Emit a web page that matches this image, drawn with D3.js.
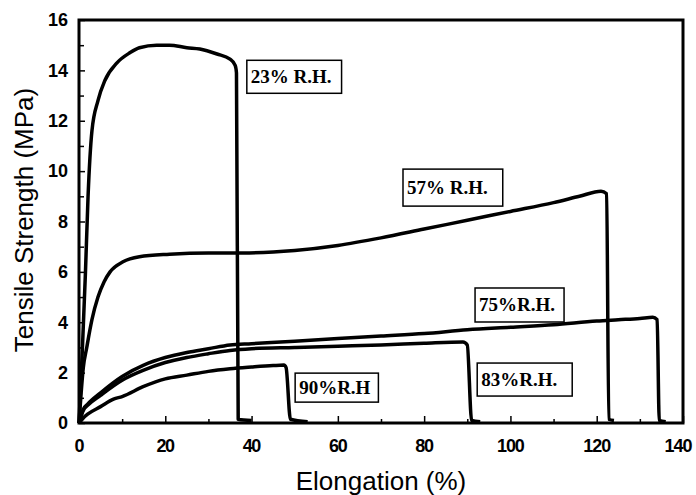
<!DOCTYPE html>
<html>
<head>
<meta charset="utf-8">
<script src="https://cdn.jsdelivr.net/npm/d3@7"></script>
<style>
  body { margin: 0; background: #fff; }
  text { fill: #000; }
</style>
</head>
<body>
<script>
// stress-strain curves, [elongation %, tensile strength MPa]
var rh23 = [[0,0],[0.8,3],[1.5,6],[2.1,9],[3,11.6],[4.4,12.8],[6,13.6],[8.8,14.3],[11.8,14.7],[14,14.9],[18,15.0],[21,15.0],[25,14.9],[28,14.85],[32,14.65],[35,14.45],[36.2,14.2],[36.5,13.9],[36.9,0.15],[40,0.1]];
var rh57 = [[0,0],[0.5,1.2],[1,2.2],[1.8,3],[3,4.1],[4.4,5],[5.8,5.6],[7.2,6],[10.2,6.4],[14,6.6],[21,6.7],[30,6.75],[38,6.75],[50,6.85],[60,7.05],[70,7.35],[80,7.7],[90,8.05],[100,8.4],[110,8.75],[116,9.0],[121,9.2],[122.3,9.1],[122.8,0.15],[124,0.1]];
var rh75 = [[0,0],[1,0.55],[2,0.75],[5,1.2],[10,1.85],[15,2.3],[20,2.6],[25,2.8],[30,2.95],[35,3.1],[40,3.15],[50,3.25],[60,3.35],[70,3.45],[80,3.55],[90,3.7],[100,3.8],[110,3.9],[120,4.05],[125,4.1],[130,4.15],[133,4.2],[134,4.1],[134.5,0.1],[136,0.05]];
var rh83 = [[0,0],[1,0.5],[2,0.7],[5,1.1],[10,1.7],[15,2.1],[20,2.4],[25,2.6],[30,2.75],[35,2.88],[40,2.95],[50,3.0],[60,3.05],[70,3.1],[80,3.17],[89,3.22],[90,3.1],[91,0.1],[93,0.05]];
var rh90 = [[0,0],[1,0.2],[2,0.35],[5,0.65],[8,0.95],[10,1.05],[15,1.45],[20,1.75],[25,1.9],[30,2.05],[35,2.15],[40,2.22],[45,2.28],[47.5,2.3],[48,2.2],[49,0.15],[53,0.05]];

var seriesNames = ["23% R.H.", "57% R.H.", "75%R.H.", "83%R.H.", "90%R.H"];
var seriesData = [rh23, rh57, rh75, rh83, rh90];

var xTicks = [0, 20, 40, 60, 80, 100, 120, 140];
var yTicks = [0, 2, 4, 6, 8, 10, 12, 14, 16];

var width = 696, height = 495;
var margin = {top: 20, right: 13, bottom: 72, left: 79};

var svg = d3.select("body").append("svg")
  .attr("width", width)
  .attr("height", height);

var x = d3.scaleLinear().domain([0, 140]).range([margin.left, width - margin.right]);
var y = d3.scaleLinear().domain([0, 16]).range([height - margin.bottom, margin.top]);

var tickFont = "bold 18px 'Liberation Sans', Arial, sans-serif";

// minor ticks
svg.append("g")
  .attr("transform", "translate(0," + y(0) + ")")
  .call(d3.axisBottom(x).tickValues(d3.range(10, 140, 20)).tickSize(-4).tickFormat(""))
  .call(function (g) { g.select(".domain").remove(); })
  .selectAll("line").attr("stroke-width", 1.5);

svg.append("g")
  .attr("transform", "translate(" + x(0) + ",0)")
  .call(d3.axisLeft(y).tickValues(d3.range(1, 16, 2)).tickSize(-5).tickFormat(""))
  .call(function (g) { g.select(".domain").remove(); })
  .selectAll("line").attr("stroke-width", 1.5);

// major ticks + labels
var xAxis = svg.append("g")
  .attr("transform", "translate(0," + y(0) + ")")
  .call(d3.axisBottom(x).tickValues(xTicks).tickSize(-7).tickPadding(16));
xAxis.select(".domain").remove();
xAxis.selectAll("line").attr("stroke-width", 1.5);
xAxis.selectAll("text").style("font", tickFont).attr("fill", "#000")
  .attr("textLength", function (d) { return String(d).length * 9.3; })
  .attr("dx", function (d) { return d === 140 ? -5 : 0; });

var yAxis = svg.append("g")
  .attr("transform", "translate(" + x(0) + ",0)")
  .call(d3.axisLeft(y).tickValues(yTicks).tickSize(-6).tickPadding(11));
yAxis.select(".domain").remove();
yAxis.selectAll("line").attr("stroke-width", 1.5);
yAxis.selectAll("text").style("font", tickFont).attr("fill", "#000");

// curves
var line = d3.line()
  .x(function (d) { return x(d[0]); })
  .y(function (d) { return y(d[1]); })
  .curve(d3.curveMonotoneX);

svg.selectAll(".curve")
  .data(seriesData)
  .enter().append("path")
  .attr("class", "curve")
  .attr("d", line)
  .attr("fill", "none")
  .attr("stroke", "#000")
  .attr("stroke-width", 3.5)
  .attr("stroke-linejoin", "round");

// frame
svg.append("rect")
  .attr("x", x(0))
  .attr("y", y(16))
  .attr("width", x(140) - x(0))
  .attr("height", y(0) - y(16))
  .attr("fill", "none")
  .attr("stroke", "#000")
  .attr("stroke-width", 3);

// boxed labels, anchored at top-left in data units
var labelPos = [[38.9, 14.4], [75.1, 10.08], [91.8, 5.36], [92.3, 2.38], [50.1, 1.98]];
var boxH = [33, 37, 34, 33, 29];
var padR = [10, 15, 9, 15, 8];

seriesNames.forEach(function (name, i) {
  var g = svg.append("g")
    .attr("transform", "translate(" + x(labelPos[i][0]) + "," + y(labelPos[i][1]) + ")");
  var rect = g.append("rect");
  var t = g.append("text")
    .attr("x", 4)
    .attr("y", boxH[i] / 2 + 6)
    .style("font", "bold 19px 'Liberation Serif', 'Times New Roman', serif")
    .text(name);
  var w = t.node().getComputedTextLength();
  rect.attr("width", w + 4 + padR[i])
    .attr("height", boxH[i])
    .attr("fill", "#fff")
    .attr("stroke", "#000")
    .attr("stroke-width", 1.5);
});

// axis titles
svg.append("text")
  .attr("x", (x(0) + x(140)) / 2)
  .attr("y", 490)
  .attr("text-anchor", "middle")
  .style("font", "26px 'Liberation Sans', Arial, sans-serif")
  .text("Elongation (%)");

svg.append("text")
  .attr("transform", "translate(33," + 220 + ") rotate(-90)")
  .attr("text-anchor", "middle")
  .style("font", "26px 'Liberation Sans', Arial, sans-serif")
  .text("Tensile Strength (MPa)");
</script>
</body>
</html>
